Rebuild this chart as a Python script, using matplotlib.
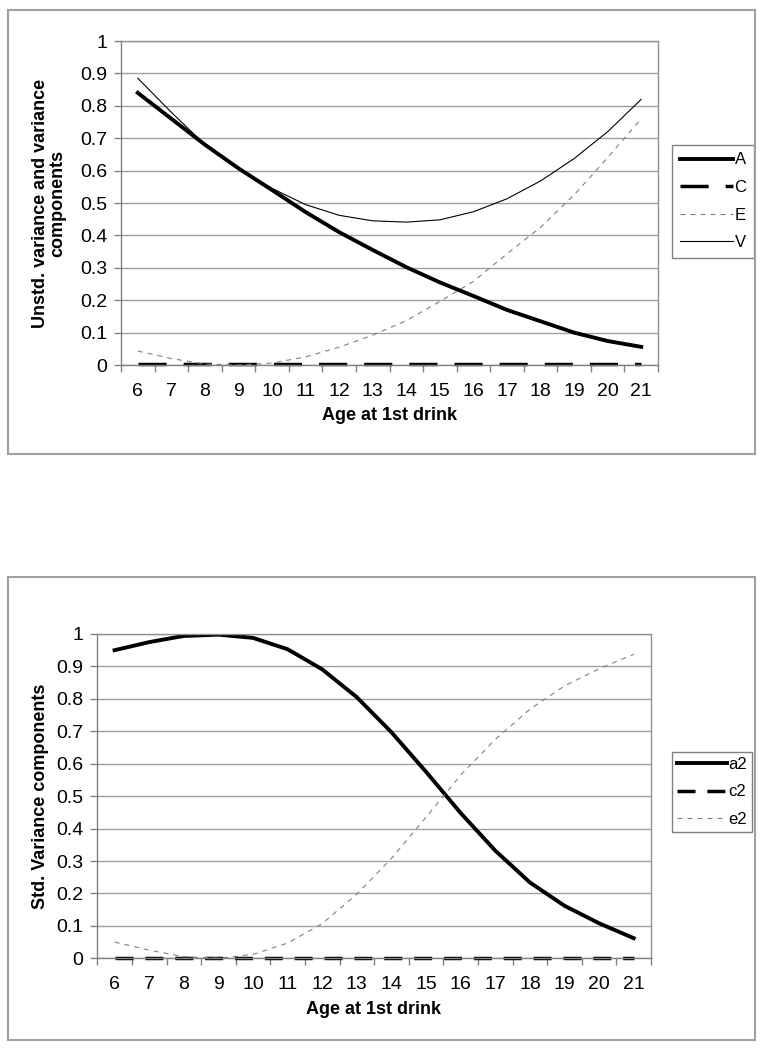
import matplotlib
matplotlib.use("Agg")
import matplotlib.pyplot as plt
from matplotlib.patches import Rectangle

plt.rcParams["font.family"] = ["Liberation Sans", "DejaVu Sans"]

ages = [6, 7, 8, 9, 10, 11, 12, 13, 14, 15, 16, 17, 18, 19, 20, 21]

# unstandardised components (top chart)
A = [0.84, 0.76, 0.68, 0.607, 0.54, 0.472, 0.41, 0.355, 0.302, 0.255, 0.213, 0.17, 0.135, 0.100, 0.074, 0.056]
C = [0.003] * 16
E = [0.043, 0.02, 0.003, 0.0, 0.006, 0.025, 0.055, 0.092, 0.137, 0.196, 0.258, 0.343, 0.425, 0.525, 0.64, 0.76]
V = [0.885, 0.78, 0.68, 0.607, 0.545, 0.495, 0.462, 0.445, 0.441, 0.448, 0.473, 0.513, 0.568, 0.637, 0.72, 0.82]

# standardised components (bottom chart)
a2 = [0.95, 0.975, 0.994, 0.998, 0.988, 0.953, 0.891, 0.805, 0.697, 0.575, 0.448, 0.332, 0.234, 0.162, 0.108, 0.062]
c2 = [0.0] * 16
e2 = [0.05, 0.025, 0.005, 0.0, 0.012, 0.047, 0.107, 0.198, 0.308, 0.435, 0.565, 0.675, 0.768, 0.84, 0.893, 0.937]

yticks = [0, 0.1, 0.2, 0.3, 0.4, 0.5, 0.6, 0.7, 0.8, 0.9, 1]
ylabels = ["0", "0.1", "0.2", "0.3", "0.4", "0.5", "0.6", "0.7", "0.8", "0.9", "1"]

W, H = 770, 1050
fig = plt.figure(figsize=(7.7, 10.5), dpi=100)


def fx(px):
    return px / W


def fy(py):
    return 1 - py / H


def style_axes(ax):
    x = list(range(len(ages)))
    ax.set_xlim(-0.5, len(ages) - 0.5)
    ax.set_ylim(0, 1)
    ax.set_xticks([i - 0.5 for i in range(len(ages) + 1)])
    ax.set_xticklabels([])
    ax.set_xticks(x, minor=True)
    ax.set_xticklabels([str(a) for a in ages], minor=True)
    ax.tick_params(axis="x", which="major", direction="out", length=5, width=1, color="#808080")
    ax.tick_params(axis="x", which="minor", length=0, pad=13, labelsize=14)
    ax.set_yticks(yticks)
    ax.set_yticklabels(ylabels)
    ax.tick_params(axis="y", direction="out", length=5, width=1, color="#808080", pad=5, labelsize=14)
    ax.grid(True, axis="y", color="#a0a0a0", lw=1)
    ax.set_axisbelow(True)
    for s in ax.spines.values():
        s.set_color("#909090")
        s.set_linewidth(1)
    ax.spines["left"].set_color("#808080")
    ax.spines["bottom"].set_color("#808080")
    return x


# ---- top chart ----
fig.add_artist(Rectangle((fx(8), fy(454)), fx(755) - fx(8), fy(10) - fy(454),
                         transform=fig.transFigure, fill=False, edgecolor="#a0a0a0", lw=1.5))
ax1 = fig.add_axes([fx(121), fy(365), fx(658) - fx(121), fy(41) - fy(365)])
x = style_axes(ax1)
ax1.plot(x, A, color="black", lw=2.8, label="A")
ax1.plot(x, C, color="black", lw=2.5, dashes=(8.1, 4.9), label="C", clip_on=False)
ax1.plot(x, E, color="#808080", lw=0.8, dashes=(4.5, 4.5), label="E")
ax1.plot(x, V, color="black", lw=0.8, label="V")
leg1 = ax1.legend(loc="upper left", bbox_to_anchor=(fx(672), fy(145)), bbox_transform=fig.transFigure,
                  fontsize=12, handlelength=3.2, handletextpad=0.1, labelspacing=0.75,
                  borderpad=0.45, borderaxespad=0, fancybox=False, edgecolor="#808080", framealpha=1)
leg1.get_frame().set_linewidth(1)
fig.text(fx(49), fy(203), "Unstd. variance and variance\ncomponents", rotation=90,
         ha="center", va="center", fontsize=13, fontweight="bold", linespacing=1.05)
fig.text(fx(389.5), fy(416), "Age at 1st drink", ha="center", va="center", fontsize=13, fontweight="bold")

# ---- bottom chart ----
fig.add_artist(Rectangle((fx(8), fy(1040)), fx(755) - fx(8), fy(577) - fy(1040),
                         transform=fig.transFigure, fill=False, edgecolor="#a0a0a0", lw=1.5))
ax2 = fig.add_axes([fx(97.3), fy(958.3), fx(651) - fx(97.3), fy(634) - fy(958.3)])
x = style_axes(ax2)
ax2.plot(x, a2, color="black", lw=2.8, label="a2")
ax2.plot(x, c2, color="black", lw=2.5, dashes=(5.2, 3.4), label="c2", clip_on=False)
ax2.plot(x, e2, color="#808080", lw=0.8, dashes=(4.5, 4.5), label="e2")
leg2 = ax2.legend(loc="upper left", bbox_to_anchor=(fx(672), fy(752)), bbox_transform=fig.transFigure,
                  fontsize=12, handlelength=3.0, handletextpad=0.1, labelspacing=0.75,
                  borderpad=0.3, borderaxespad=0, fancybox=False, edgecolor="#808080", framealpha=1)
leg2.get_frame().set_linewidth(1)
fig.text(fx(40.5), fy(796), "Std. Variance components", rotation=90,
         ha="center", va="center", fontsize=13, fontweight="bold")
fig.text(fx(374), fy(1010), "Age at 1st drink", ha="center", va="center", fontsize=13, fontweight="bold")

fig.savefig("out.png", dpi=100, facecolor="white")
